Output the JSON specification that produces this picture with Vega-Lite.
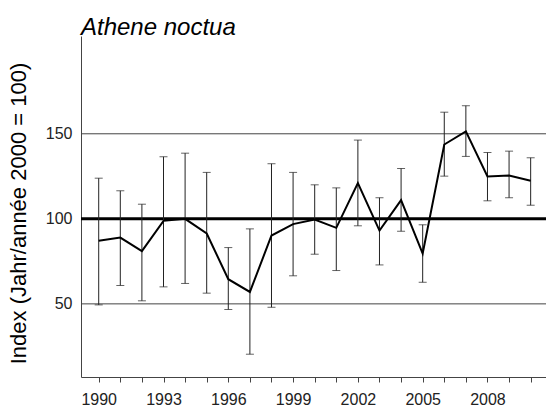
{
  "$schema": "https://vega.github.io/schema/vega-lite/v6.json",
  "width": 465,
  "height": 341,
  "autosize": {"type": "none"},
  "padding": {"left": 81, "top": 36, "right": 0, "bottom": 30},
  "background": "white",
  "config": {
    "view": {"stroke": null},
    "font": "Liberation Sans",
    "axis": {"labelOverlap": false, "labelFlush": false}
  },
  "title": {
    "text": "Athene noctua",
    "anchor": "start",
    "frame": "group",
    "font": "Liberation Sans",
    "fontStyle": "italic",
    "fontWeight": "normal",
    "fontSize": 24,
    "color": "black",
    "baseline": "alphabetic",
    "offset": 4,
    "dy": 27
  },
  "data": {
    "values": [
      {"year": 1990, "index": 87.1, "lo": 49.4, "hi": 123.9},
      {"year": 1991, "index": 89.0, "lo": 60.8, "hi": 116.5},
      {"year": 1992, "index": 81.0, "lo": 51.8, "hi": 108.6},
      {"year": 1993, "index": 98.8, "lo": 60.0, "hi": 136.5},
      {"year": 1994, "index": 100.0, "lo": 62.0, "hi": 138.6},
      {"year": 1995, "index": 91.4, "lo": 56.3, "hi": 127.3},
      {"year": 1996, "index": 64.5, "lo": 46.7, "hi": 83.1},
      {"year": 1997, "index": 57.0, "lo": 20.4, "hi": 94.1},
      {"year": 1998, "index": 90.2, "lo": 48.0, "hi": 132.4},
      {"year": 1999, "index": 96.9, "lo": 66.5, "hi": 127.3},
      {"year": 2000, "index": 99.6, "lo": 79.2, "hi": 120.0},
      {"year": 2001, "index": 94.7, "lo": 69.6, "hi": 118.2},
      {"year": 2002, "index": 121.0, "lo": 95.9, "hi": 146.3},
      {"year": 2003, "index": 93.1, "lo": 72.9, "hi": 112.4},
      {"year": 2004, "index": 111.0, "lo": 92.7, "hi": 129.6},
      {"year": 2005, "index": 79.6, "lo": 62.7, "hi": 96.5},
      {"year": 2006, "index": 143.7, "lo": 125.1, "hi": 162.7},
      {"year": 2007, "index": 151.4, "lo": 136.7, "hi": 166.5},
      {"year": 2008, "index": 124.9, "lo": 110.6, "hi": 139.0},
      {"year": 2009, "index": 125.5, "lo": 112.4, "hi": 139.8},
      {"year": 2010, "index": 122.4, "lo": 108.0, "hi": 135.9}
    ]
  },
  "resolve": {"axis": {"x": "independent"}},
  "layer": [
    {
      "mark": {"type": "rule", "color": "#444444", "strokeWidth": 1},
      "data": {"values": [{"ref": 50}, {"ref": 150}]},
      "encoding": {
        "y": {"field": "ref", "type": "quantitative", "scale": {"domain": [7, 207.5], "nice": false, "zero": false}}
      }
    },
    {
      "mark": {"type": "rule", "color": "black", "strokeWidth": 3},
      "data": {"values": [{"ref": 100}]},
      "encoding": {
        "y": {"field": "ref", "type": "quantitative"}
      }
    },
    {
      "mark": {"type": "rule", "color": "#222222", "strokeWidth": 1},
      "encoding": {
        "x": {
          "field": "year",
          "type": "quantitative",
          "scale": {"domain": [1989.18, 2010.71], "nice": false, "zero": false},
          "axis": {
            "orient": "bottom",
            "title": null,
            "values": [1990, 1993, 1996, 1999, 2002, 2005, 2008],
            "format": "d",
            "grid": false,
            "domainColor": "#444444",
            "tickColor": "#444444",
            "tickSize": 5,
            "labelFontSize": 16,
            "labelColor": "#222222",
            "labelPadding": 9,
            "labelFont": "Liberation Sans",
            "labelFlush": false,
            "labelOverlap": false
          }
        },
        "y": {"field": "lo", "type": "quantitative"},
        "y2": {"field": "hi"}
      }
    },
    {
      "mark": {"type": "tick", "orient": "horizontal", "color": "#222222", "thickness": 1, "size": 8},
      "encoding": {
        "x": {
          "field": "year",
          "type": "quantitative",
          "axis": {
            "orient": "bottom",
            "title": null,
            "values": [1991, 1992, 1994, 1995, 1997, 1998, 2000, 2001, 2003, 2004, 2006, 2007, 2009, 2010],
            "labels": false,
            "domain": false,
            "grid": false,
            "tickColor": "#444444",
            "tickSize": 5
          }
        },
        "y": {"field": "lo", "type": "quantitative"}
      }
    },
    {
      "mark": {"type": "tick", "orient": "horizontal", "color": "#222222", "thickness": 1, "size": 8},
      "encoding": {
        "x": {"field": "year", "type": "quantitative", "axis": null},
        "y": {"field": "hi", "type": "quantitative"}
      }
    },
    {
      "mark": {"type": "line", "color": "black", "strokeWidth": 2},
      "encoding": {
        "x": {"field": "year", "type": "quantitative", "axis": null},
        "y": {
          "field": "index",
          "type": "quantitative",
          "axis": {
            "title": "Index (Jahr/année 2000 = 100)",
            "titleFont": "Liberation Sans",
            "titleFontSize": 22,
            "titleFontWeight": "normal",
            "titleColor": "black",
            "titleAngle": -90,
            "titleX": -63,
            "titleY": 177,
            "titleAlign": "center",
            "titleBaseline": "middle",
            "values": [50, 100, 150],
            "grid": false,
            "ticks": false,
            "domainColor": "#444444",
            "labelFontSize": 16,
            "labelColor": "#222222",
            "labelPadding": 9,
            "labelFont": "Liberation Sans"
          }
        }
      }
    }
  ]
}
